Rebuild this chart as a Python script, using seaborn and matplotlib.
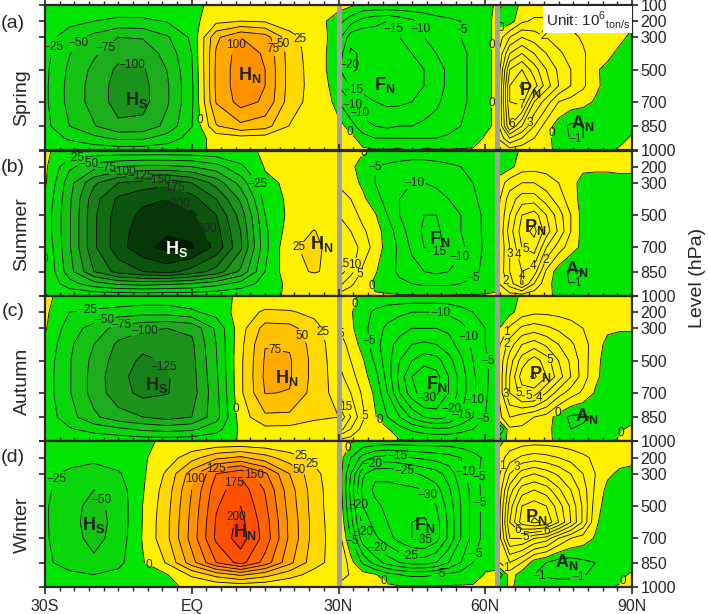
import numpy as np
import matplotlib
matplotlib.use('Agg')
import matplotlib.pyplot as plt
from matplotlib.colors import ListedColormap, BoundaryNorm
from matplotlib.ticker import MultipleLocator
import seaborn as sns

sns.set_style('ticks')
plt.rcParams['font.family'] = ['Liberation Sans', 'DejaVu Sans']
plt.rcParams['mathtext.fontset'] = 'custom'
plt.rcParams['mathtext.rm'] = 'Liberation Sans'
plt.rcParams['mathtext.bf'] = 'Liberation Sans:bold'
plt.rcParams['contour.negative_linestyle'] = 'solid'

# ---- grids ----
levels_hpa = [100, 200, 300, 400, 500, 600, 700, 850, 925, 1000]
lat_trop = [-30, -25, -20, -15, -10, -5, 0, 5, 10, 15, 20, 25, 30]
lat_mid = [30, 32.5, 35, 37.5, 40, 42.5, 45, 47.5, 50, 52.5, 55, 57.5, 60, 62.5]
lat_polar = [62.5, 65, 67.5, 70, 72.5, 75, 77.5, 80, 82.5, 85, 87.5, 90]

# ---- streamfunction (rows = levels_hpa) ----
spring_trop = [
    [-1, -2, -2, -3, -3, -2, -1, 1, 2, 2, 1, 1, 2],
    [-6, -17, -25, -32, -31, -23, -9, 18, 25, 22, 9, 3, -3],
    [-14, -39, -58, -75, -73, -53, -20, 70, 100, 87, 35, 10, -8],
    [-17, -49, -71, -92, -91, -66, -25, 78, 112, 97, 39, 12, -12],
    [-19, -55, -81, -105, -103, -74, -28, 80, 115, 100, 40, 14, -14],
    [-20, -58, -85, -110, -108, -78, -30, 80, 115, 100, 40, 15, -10],
    [-20, -58, -85, -110, -108, -78, -30, 77, 110, 96, 38, 14, -5],
    [-17, -50, -73, -95, -93, -67, -26, 48, 69, 60, 24, 10, 3],
    [-10, -29, -43, -55, -54, -39, -15, 10, 15, 13, 5, 4, 5],
    [-2, -6, -9, -11, -11, -8, -3, 2, 2, 2, 1, 1, 3],
]
spring_mid = [
    [2, 1, -1, -1, -1, -1, -1, -1, -1, -1, -1, -1, -1, 0.5],
    [-3, -8, -12, -14, -15, -13, -11, -9, -7, -6, -5, -3, -1, 1],
    [-8, -18, -19, -17, -16, -15, -12, -10, -8, -7, -5, -3, -1, 1],
    [-12, -21, -19, -17, -16, -16, -15, -13, -10, -8, -6, -4, -1, 1],
    [-14, -21, -19, -17, -16, -16, -16, -15, -12, -9, -6, -4, -1, 1],
    [-10, -16, -16, -16, -16, -16, -16, -15, -12, -9, -6, -4, -1, 1],
    [-5, -10, -14, -15, -16, -16, -15, -13, -11, -8, -6, -4, -1, 1],
    [3, -3, -8, -10, -11, -10, -10, -9, -8, -7, -5, -3, -1, 1],
    [5, 2, -3, -5, -5, -5, -5, -5, -5, -4, -3, -2, 0.5, 1],
    [3, 2, 1, 0.5, 0.5, 1, -0.5, 1, 0.5, 0.5, 0.5, 0.5, 1, 1],
]
spring_polar = [
    [0.3, -0.5, 0.2, 0.3, 0.3, 0.3, 0.3, 0.3, 0.2, 0.2, 0.2, 0.2],
    [-0.3, -0.5, 0.8, 1.2, 1.2, 1.0, 0.8, 0.6, 0.5, 0.4, 0.3, 0.2],
    [0.3, 2, 3, 2.5, 2, 1.5, 1.2, 0.9, 0.6, 0.4, 0.2, -0.2],
    [0.8, 4, 5, 4, 3, 2.2, 1.6, 1.1, 0.6, 0.2, -0.2, -0.4],
    [1, 6, 7, 5.5, 4, 2.8, 2, 1.2, 0.1, -0.2, -0.4, -0.4],
    [1, 7, 8.2, 6.5, 4.5, 3, 2, 1.2, 0.2, -0.3, -0.4, -0.4],
    [1.2, 7, 7.5, 4, 2.5, 1.0, 0.6, 0.3, -0.1, -0.3, -0.4, -0.4],
    [1.5, 6, 4, 2, 0.5, -0.5, -1.2, -1, -0.6, -0.4, -0.3, -0.2],
    [1, 3, 2, 1, 0.2, -0.3, -1.1, -1.0, -0.4, -0.3, -0.2, 0.1],
    [0.5, 0.5, 0.3, 0.2, 0.1, -0.1, -0.2, -0.2, -0.1, -0.1, 0.1, 0.3],
]

summer_trop = [
    [1, -3, -5, -5, -5, -5, -5, -3, -2, 1, 1, 1, 1],
    [5, -45, -65, -75, -80, -80, -75, -60, -30, 2, 3, 3, 2],
    [4, -65, -120, -150, -160, -168, -150, -115, -65, -5, 4, 5, 4],
    [-3, -70, -140, -180, -195, -200, -185, -150, -95, -15, 5, 8, 8],
    [-8, -72, -145, -188, -205, -213, -205, -175, -115, -25, 6, 14, 10],
    [-8, -72, -145, -190, -212, -222, -218, -185, -125, -30, 12, 26, 12],
    [-2, -72, -145, -190, -218, -232, -228, -192, -130, -32, 22, 30, 15],
    [2, -65, -125, -160, -175, -185, -165, -140, -95, -25, 18, 27, 18],
    [-2, -40, -65, -80, -85, -80, -75, -60, -40, -15, 6, 10, 12],
    [0.5, -3, -5, -5, -5, -5, -5, -3, -2, -2, 1, 2, 3],
]
summer_mid = [
    [1, 1, 0.5, -0.5, -1, -1, -1, -1, -1, -1, -1, -1, -1, -0.5],
    [2, 1, -2, -5, -6, -7, -8, -8, -7, -6, -5, -4, -3, -1],
    [4, 2, -1, -5, -7, -9, -10, -10, -9, -8, -7, -5, -3, -1],
    [8, 5, 1, -3, -7, -10, -12, -13, -12, -10, -8, -6, -3, -1],
    [10, 8, 3, 0.5, -5, -10, -13, -15, -15, -13, -10, -7, -4, -1],
    [12, 10, 6, 2, -2, -8, -12, -16, -16, -13, -10, -7, -4, -1],
    [15, 13, 8, 3, -2, -6, -11, -15, -16, -14, -11, -8, -4, -1],
    [18, 12, 4, 0.5, -3, -6, -8, -10, -11, -10, -8, -6, -4, -1],
    [12, 6, 2, -1, -2, -4, -5, -6, -6, -6, -5, -4, -3, -1],
    [3, 2, 1, 0.5, 0.5, 0.5, 0.5, 0.5, 0.5, 0.5, 0.5, 0.5, 0.5, 0.5],
]
summer_polar = [
    [-0.5, -0.5, 0.2, 0.3, 0.3, 0.3, 0.3, 0.3, 0.3, 0.3, 0.3, 0.3],
    [-0.5, -0.3, 0.5, 0.6, 0.6, 0.5, 0.3, 0.2, 0.2, 0.2, 0.3, 0.3],
    [0.3, 1.5, 2, 2, 1.5, 1, 0.3, -0.3, -0.4, -0.4, -0.4, -0.4],
    [0.6, 2.5, 3.5, 3.5, 2.5, 1.5, 0.5, -0.4, -0.5, -0.5, -0.5, -0.5],
    [0.8, 3, 5, 5.5, 4, 2.5, 1, -0.4, -0.5, -0.5, -0.5, -0.5],
    [0.8, 3.5, 5.5, 6.3, 4.5, 2.8, 1, -0.4, -0.5, -0.5, -0.5, -0.5],
    [0.8, 3, 5, 5.5, 3, 1.5, 0.5, -0.3, -0.5, -0.5, -0.5, -0.5],
    [1, 3, 4, 3.5, 0.8, -0.5, -1.2, -1, -0.6, -0.5, -0.5, -0.4],
    [0.8, 2.5, 4.2, 2, 0.3, -0.4, -1.1, -0.8, -0.4, -0.3, -0.3, -0.2],
    [0.3, 0.5, 0.5, 0.3, 0.1, -0.1, -0.2, -0.2, -0.1, -0.1, -0.1, -0.1],
]

autumn_trop = [
    [1, -2, -3, -4, -5, -5, -4, -2, 1, 1, 1, 1, 1],
    [5, -25, -30, -35, -40, -40, -30, -15, 10, 30, 28, 18, 3],
    [3, -38, -60, -85, -95, -100, -95, -45, 15, 60, 58, 35, 5],
    [-5, -45, -75, -105, -118, -115, -105, -50, 18, 74, 72, 40, 8],
    [-10, -48, -82, -112, -130, -122, -108, -52, 20, 78, 78, 42, 10],
    [-12, -48, -85, -118, -135, -127, -110, -55, 20, 80, 78, 42, 12],
    [-12, -48, -85, -115, -132, -126, -112, -58, 20, 76, 74, 40, 15],
    [-10, -40, -70, -90, -100, -110, -100, -60, 12, 45, 44, 30, 25],
    [-5, -22, -35, -45, -55, -60, -55, -35, 5, 18, 17, 12, 18],
    [-1, -3, -4, -5, -8, -8, -7, -5, 1, 2, 2, 2, 3],
]
autumn_mid = [
    [1, 0.5, -0.5, -1, -1, -1, -1, -1, -1, -1, -1, -1, -1, -0.5],
    [3, 0.5, -3, -6, -8, -9, -10, -10, -10, -9, -7, -5, -3, -1],
    [5, 1, -3, -8, -11, -13, -15, -15, -15, -14, -12, -8, -5, -2],
    [8, 3, -2, -8, -13, -17, -20, -21, -20, -17, -13, -9, -5, -2],
    [10, 5, 0.5, -6, -13, -20, -25, -28, -27, -22, -16, -10, -6, -2],
    [12, 7, 2, -3, -12, -22, -30, -34, -32, -25, -18, -11, -6, -2],
    [15, 10, 4, -1, -10, -20, -28, -33, -31, -25, -18, -11, -6, -1],
    [25, 15, 6, 0.5, -5, -10, -16, -20, -22, -20, -15, -10, -5, -1],
    [18, 10, 3, 1, 0.5, -3, -6, -8, -9, -9, -7, -5, -3, -1],
    [3, 2, 1, 0.5, 0.5, 0.5, 0.5, 0.5, 0.5, 0.5, 0.5, 0.3, 0.3, 0.3],
]
autumn_polar = [
    [-0.5, -0.5, 0.2, 0.3, 0.3, 0.3, 0.3, 0.3, 0.3, 0.3, 0.3, 0.3],
    [-0.5, -0.3, 0.5, 0.8, 0.8, 0.7, 0.6, 0.5, 0.4, 0.3, 0.3, 0.3],
    [-0.2, 1.2, 2.2, 2.5, 2.2, 1.8, 1.4, 1, 0.5, 0.2, 0.1, 0.1],
    [0.6, 2.5, 4, 4.5, 3.8, 3, 2.2, 1.4, 0.5, -0.3, -0.4, -0.4],
    [0.8, 3.5, 5.5, 6.5, 5.5, 4, 2.8, 1.5, 0.3, -0.4, -0.5, -0.5],
    [0.8, 4, 6.5, 7.2, 6, 4.5, 3, 1.5, 0.2, -0.4, -0.5, -0.5],
    [0.8, 4, 5.5, 5.5, 4, 2.5, 1.5, 0.8, -0.1, -0.4, -0.5, -0.5],
    [0.5, 2, 1.5, 1, 0.6, -0.5, -1.2, -1.2, -0.8, -0.5, -0.4, -0.3],
    [-3, 0.8, 0.8, 0.5, 0.3, -0.4, -1, -0.8, -0.5, -0.3, -0.1, 0.2],
    [-0.5, 0.2, 0.2, 0.2, 0.1, -0.1, -0.2, -0.2, -0.1, -0.1, 0.1, 0.2],
]

winter_trop = [
    [-2, -2, -2, -2, -1, 1, 1, 1, 1, 1, 1, 1, 1],
    [-10, -15, -18, -12, -3, 12, 40, 68, 80, 60, 36, 18, 3],
    [-18, -30, -38, -28, -4, 30, 88, 150, 170, 130, 75, 33, 4],
    [-20, -38, -50, -38, -2, 38, 100, 165, 190, 148, 86, 37, 5],
    [-22, -42, -57, -42, 0.5, 42, 105, 172, 200, 155, 90, 38, 5],
    [-22, -42, -60, -42, 1, 45, 108, 178, 208, 162, 94, 40, 6],
    [-22, -40, -58, -40, 2, 45, 110, 180, 212, 165, 95, 40, 8],
    [-20, -35, -45, -32, -2, 28, 90, 150, 185, 140, 82, 35, 12],
    [-12, -20, -25, -18, -1, -1, 30, 60, 80, 60, 35, 16, 10],
    [-2, -3, -3, -3, -1, -1, 1, 3, 5, 4, 2, 2, 3],
]
winter_mid = [
    [1, 0.5, -1, -1.5, -2, -2, -2, -2, -2, -2, -1.5, -1, -0.5, -0.2],
    [3, -5, -12, -16, -17, -16, -15, -14, -13, -12, -10, -7, -4, -1],
    [4, -10, -24, -29, -29, -28, -26, -24, -22, -18, -12, -7, -3, -1],
    [5, -12, -27, -31, -31, -31, -31, -30, -27, -21, -14, -8, -3, -1],
    [5, -10, -25, -29, -31, -32, -33, -33, -30, -23, -15, -8, -3, -0.5],
    [6, -8, -22, -27, -30, -33, -35, -36, -32, -24, -15, -8, -3, -0.5],
    [8, -5, -18, -24, -28, -32, -35, -36, -32, -24, -15, -8, -3, -0.5],
    [12, 2, -6, -12, -17, -20, -22, -22, -20, -15, -10, -5, -1, -0.5],
    [10, 4, 2, 0.5, -3, -5, -6, -6, -5, -4, -3, -2, 0.3, 0.3],
    [3, 2, 2, 2, 1, 0.5, 0.5, 0.5, 0.5, 0.5, 0.5, 0.5, 0.2, 0.2],
]
winter_polar = [
    [-0.3, 0.3, 0.5, 0.6, 0.6, 0.5, 0.4, 0.3, 0.3, 0.3, 0.3, 0.3],
    [0.3, 1.5, 2.2, 2.5, 2.3, 2, 1.6, 1.2, 0.8, 0.5, 0.4, 0.3],
    [0.5, 3, 4.5, 5, 4.5, 3.8, 3, 2, 1, 0.2, -0.2, -0.3],
    [0.8, 4.5, 6.5, 7, 6.5, 5.2, 4, 2.5, 0.8, -0.3, -0.5, -0.5],
    [1, 5.5, 8, 8.5, 8, 6.5, 4.8, 2.8, 0.5, -0.5, -0.6, -0.6],
    [1, 6, 8.5, 9.2, 8.8, 7, 5, 2.8, 0.2, -0.6, -0.7, -0.7],
    [1, 5, 5, 4, 3.5, 2, 1, 0.5, -0.1, -0.6, -0.8, -0.8],
    [0.8, 2, 1, -0.5, -1, -1.5, -1.5, -1.2, -1, -0.8, -0.7, -0.5],
    [-2, 0.5, -0.5, -1, -1.2, -1.4, -1.4, -1.1, -0.7, -0.5, -0.3, 0.2],
    [-0.5, 0.1, -0.2, -0.3, -0.3, -0.3, -0.3, -0.3, -0.2, -0.1, 0.1, 0.3],
]

seasons = ['Spring', 'Summer', 'Autumn', 'Winter']
tags = ['(a)', '(b)', '(c)', '(d)']
fields = [
    (spring_trop, spring_mid, spring_polar),
    (summer_trop, summer_mid, summer_polar),
    (autumn_trop, autumn_mid, autumn_polar),
    (winter_trop, winter_mid, winter_polar),
]

# cell names and where their labels sit (lat, hPa)
cell_names = ['H_S', 'H_N', 'F_N', 'P_N', 'A_N']
cell_pos = [
    [(-11.3, 689), (11.9, 534), (39.5, 596), (69.1, 627), (80.0, 830)],
    [(-3.1, 712), (26.5, 679), (50.7, 648), (70.2, 575), (78.7, 834)],
    [(-7.2, 652), (19.4, 611), (50.1, 648), (71.2, 586), (80.7, 844)],
    [(-20.1, 617), (10.9, 658), (47.7, 620), (70.5, 565), (76.6, 844)],
]

# where the contour labels sit in each section (lat, hPa)
lab_trop = [
    [(-27.5, 367), (-22.2, 358), (-17.5, 369), (-12.3, 513), (1.7, 813),
     (8.5, 338), (17, 369), (19.7, 338), (22.8, 307)],
    [(-24, 150), (-21, 185), (-17.5, 215), (-14, 240), (-10.5, 260), (-7, 290),
     (-4, 330), (-3, 430), (1.5, 600), (14.6, 296), (20.5, 690), (-29.7, 772)],
    [(-21.1, 228), (-17.7, 259), (-14.3, 280), (-9.6, 311), (-6.5, 559), (9.2, 797),
     (17.4, 383), (23.5, 331), (27.6, 321)],
    [(-27.3, 338), (-17.4, 441), (-8.5, 844), (0.5, 330), (5, 265), (13, 300),
     (8, 330), (7.8, 555), (21.4, 296), (22.1, 214), (25.5, 203)],
]
lab_mid = [
    [(40.9, 255), (46, 255), (54.8, 255), (32.7, 472), (33.4, 606), (34.1, 689),
     (33.4, 782), (31.3, 916), (59.6, 710), (61.3, 348)],
    [(35.4, 131), (36.1, 203), (45.6, 265), (50.7, 772), (55.5, 772), (58.6, 927),
     (32, 793), (34, 813), (35.1, 875), (36.1, 948)],
    [(34.7, 162), (36.1, 379), (50.7, 214), (55.5, 358), (61, 503), (48, 730),
     (52, 790), (55, 835), (57.5, 745), (59.5, 860), (31.3, 328), (31.3, 793),
     (35.1, 844), (37.5, 896)],
    [(32.7, 152), (42, 205), (37, 240), (43.5, 275), (56.2, 286), (59.3, 317),
     (47.7, 441), (34.4, 493), (47, 735), (35.1, 658), (32.7, 720), (37.8, 761),
     (44.6, 792), (60.6, 482), (60, 813), (39.2, 968), (50.7, 948)],
]
lab_polar = [
    [(63.4, 255), (71.8, 296), (67.4, 720), (65.4, 834), (68.8, 823), (73.9, 896),
     (78.5, 940)],
    [(68.8, 679), (67.1, 741), (65.1, 741), (69.8, 813), (68.1, 875), (64.4, 906),
     (72.9, 782), (78.3, 916)],
    [(63.7, 317), (64.7, 400), (73.2, 493), (75.3, 844), (87.2, 937), (64, 710),
     (66.5, 715), (69, 720), (71, 730)],
    [(63.7, 255), (66.1, 245), (72.5, 658), (66.1, 668), (68.4, 700), (64.7, 875),
     (70.8, 958), (79, 948), (87.5, 948)],
]

# ---- colours ----
green = '#00e600'
yellow = '#fff000'
neg_cols = ['#001c00', '#063706', '#0c550c', '#126c12', '#188018',
            '#1c941c', '#1cac1c', '#14c314', '#0ad70a', green]
pos_cols = [yellow, '#ffd800', '#ffc000', '#ffa800', '#ff9000',
            '#ff7800', '#ff6400', '#ff5000', '#f53c00', '#eb2800']
trop_levels = np.arange(-250, 251, 25)
trop_cmap = ListedColormap(neg_cols + pos_cols)
trop_norm = BoundaryNorm(trop_levels, trop_cmap.N)
mid_levels = np.arange(-40, 31, 5)
polar_levels = np.arange(-4, 11, 1)


def fmt(v):
    return f'{v:.0f}'.replace('-', '\u2212')


def draw_section(ax, lats, vals, line_levels, shaded, spots):
    vals = np.array(vals, dtype=float)
    if shaded:
        ax.contourf(lats, levels_hpa, vals, levels=trop_levels, cmap=trop_cmap, norm=trop_norm)
    else:
        ax.contourf(lats, levels_hpa, vals, levels=[-100, 0, 100], colors=[green, yellow])
    cs = ax.contour(lats, levels_hpa, vals, levels=line_levels, colors='k', linewidths=0.6)
    labels = ax.clabel(cs, fmt=fmt, fontsize=8.5, inline=True, inline_spacing=1, manual=spots)
    for t in labels:
        t.set_rotation(0)
        t.set_color('#222222')


fig = plt.figure(figsize=(7.08, 6.14), dpi=100)
W, H = 708, 614
tops = [5, 150.5, 296, 441.5]
ph = 145.3
season_y = [98, 234, 381, 525]
tag_y = [23, 167, 312, 458]

for k in range(4):
    ax = fig.add_axes([45 / W, 1 - (tops[k] + ph) / H, 587 / W, ph / H])
    trop, mid, polar = fields[k]
    ax.set_xlim(-30, 90)
    ax.set_ylim(1000, 100)
    draw_section(ax, lat_trop, trop, trop_levels, True, lab_trop[k])
    draw_section(ax, lat_mid, mid, mid_levels, False, lab_mid[k])
    draw_section(ax, lat_polar, polar, polar_levels, False, lab_polar[k])
    ax.axvline(30, color='#a0a0a0', lw=3.6, zorder=5)
    ax.axvline(62.5, color='#a0a0a0', lw=3.6, zorder=5)

    for name, (x, y) in zip(cell_names, cell_pos[k]):
        big, sub = name.split('_')
        col = 'white' if (k == 1 and name == 'H_S') else '#222222'
        ax.text(x, y, r'$\mathbf{%s}_{\mathbf{%s}}$' % (big, sub), fontsize=13,
                color=col, ha='center', va='center', zorder=6)

    ax.set_xticks([-30, 0, 30, 60, 90])
    ax.xaxis.set_minor_locator(MultipleLocator(3))
    ax.set_yticks([100, 200, 300, 500, 700, 850, 1000])
    ylabs = ['100', '200', '300', '500', '700', '850', '1000']
    if k > 0:
        ylabs[0] = ''
    ax.set_yticklabels(ylabs)
    if k == 3:
        ax.set_xticklabels(['30S', 'EQ', '30N', '60N', '90N'])
    else:
        ax.set_xticklabels([])
    ax.tick_params(axis='y', left=True, right=True, labelleft=False, labelright=True,
                   direction='out', length=4, width=1.2, labelsize=11.5, pad=2)
    ax.tick_params(axis='x', which='major', top=True, bottom=True, direction='out',
                   length=5, width=1.2, labelsize=11.5, pad=4)
    ax.tick_params(axis='x', which='minor', top=True, bottom=True, direction='out',
                   length=3, width=1)
    for s in ax.spines.values():
        s.set_linewidth(1.6)
        s.set_zorder(7)

    fig.text(22 / W, 1 - season_y[k] / H, seasons[k], rotation=90, fontsize=14,
             ha='center', va='center')
    fig.text(13 / W, 1 - tag_y[k] / H, tags[k], fontsize=14, ha='center', va='center')

    if k == 0:
        ax.text(0.996, 0.975, r'Unit: 10$^{6}$$_{\mathregular{ton/s}}$', transform=ax.transAxes,
                fontsize=11, ha='right', va='top', zorder=8,
                bbox=dict(facecolor='white', edgecolor='none', pad=2))

fig.text(698 / W, 1 - 278 / H, 'Level (hPa)', rotation=90, fontsize=14,
         ha='center', va='center')

fig.savefig('out.png', dpi=100)
